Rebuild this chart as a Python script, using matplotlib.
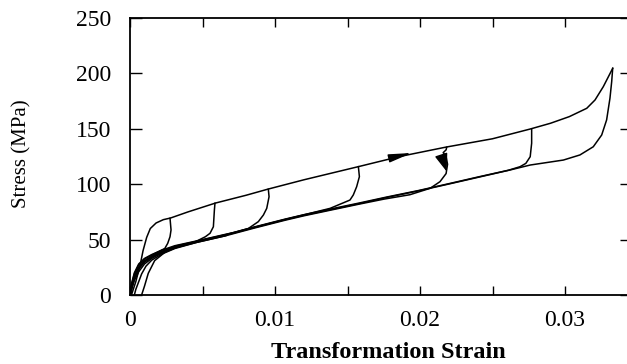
import matplotlib
matplotlib.use('Agg')
import matplotlib.pyplot as plt

# --- data (strain, stress in MPa) -------------------------------------------
load_strain = [0.0001, 0.0004, 0.0007, 0.0009, 0.00115, 0.0014, 0.0018, 0.0023,
               0.0028, 0.0040, 0.0059, 0.0080, 0.0095, 0.0120, 0.0158, 0.0186,
               0.0218, 0.0250, 0.0276, 0.0290, 0.0303, 0.0315, 0.03207, 0.03264,
               0.03329]
load_stress = [0, 12, 27, 40, 52, 60, 65, 68, 69.5, 75, 83, 90, 95.5, 104, 116,
               125, 133.5, 141, 149.8, 155, 161, 168.5, 176, 188, 204.6]

unload_strain = [0.03329, 0.03322, 0.0331, 0.03287, 0.03253, 0.03195, 0.03103,
                 0.02989, 0.0276, 0.0262, 0.0241, 0.0221, 0.0199, 0.0177, 0.0158,
                 0.0138, 0.0120, 0.0107, 0.0086, 0.0066, 0.0046, 0.0031, 0.0022,
                 0.0015, 0.0010, 0.0006, 0.0003, 0.0001, 0]
unload_stress = [204.6, 192.6, 177.5, 158, 144.4, 133.8, 126.4, 121.8, 117.3,
                 112.8, 106.5, 100.5, 94, 88, 82.5, 77, 72, 68, 61, 54, 48, 43.5,
                 39.5, 35, 31, 25, 17, 8, 0]

# partial unloading branches, each running back down to zero stress
loop_a_strain = [0.00276, 0.00283, 0.00276, 0.0026, 0.0024, 0.00195, 0.0015,
                 0.0010, 0.0006, 0.0003, 0.0001, 0]
loop_a_stress = [69.2, 58.7, 52.6, 46.6, 42, 39, 36, 32.5, 27, 19, 9, 0]

loop_b_strain = [0.00586, 0.00582, 0.00575, 0.00552, 0.0052, 0.0045, 0.0031,
                 0.0022, 0.0015, 0.0010, 0.0006, 0.0003, 0.0001, 0]
loop_b_stress = [82.8, 76.7, 61.6, 55.7, 52.6, 48, 42.5, 38, 33, 28, 21, 13, 5, 0]

loop_c_strain = [0.00954, 0.00959, 0.00943, 0.0092, 0.00885, 0.00816, 0.0072,
                 0.0066, 0.0046, 0.0031, 0.0022, 0.0015, 0.0010, 0.0006, 0.0003,
                 0.0001, 0]
loop_c_stress = [95.4, 88.7, 78.2, 72.2, 66.2, 60, 56.5, 54.8, 48.8, 44.5, 40.5,
                 36.5, 33, 28, 20, 10, 0]

loop_d_strain = [0.01575, 0.01582, 0.01563, 0.0154, 0.01517, 0.0138, 0.01195,
                 0.0107, 0.0086, 0.0066, 0.0046, 0.0031, 0.0022, 0.0015, 0.0010,
                 0.0006, 0.0003, 0.00015, 0.00005]
loop_d_stress = [115.8, 106.8, 97.7, 90.3, 85.7, 78.2, 72.2, 68.2, 61.2, 54.2,
                 48.2, 43, 38.5, 34, 29.5, 23.5, 15, 7, 0]

loop_e_strain = [0.02184, 0.0218, 0.0216, 0.0218, 0.0219, 0.0218, 0.02138, 0.0207,
                 0.0193, 0.0175, 0.0158, 0.0138, 0.0120, 0.0107, 0.0086, 0.0066,
                 0.0046, 0.0031, 0.0022, 0.0015, 0.0011, 0.0008, 0.0006, 0.0004,
                 0.0003]
loop_e_stress = [133.3, 131, 128.5, 125, 118, 109.6, 102.3, 96.3, 90.5, 86.5, 82,
                 76.5, 71.5, 67.5, 60.5, 53.5, 47.5, 42, 37, 31.5, 26, 19, 12, 5, 0]

loop_f_strain = [0.0277, 0.0277, 0.0276, 0.0273, 0.0269, 0.0261, 0.0241, 0.0221,
                 0.0199, 0.0177, 0.0158, 0.0138, 0.0120, 0.0107, 0.0086, 0.0066,
                 0.0046, 0.0031, 0.0022, 0.0015, 0.0010, 0.0006, 0.0003, 0.0001, 0]
loop_f_stress = [149.8, 137, 124.8, 118.8, 115.8, 112.6, 106.8, 100.8, 94.3, 88.4,
                 83, 77.5, 72.5, 68.5, 61.5, 54.5, 48.5, 44, 39, 34.5, 30.5, 24,
                 16, 7, 0]

reload_strain = [0.0008, 0.0010, 0.00126, 0.0017, 0.0024, 0.0031, 0.0046, 0.0066]
reload_stress = [0, 8, 19.6, 31, 38.5, 42.5, 47.5, 53.5]

# direction arrows: (tail, tip)
arrow_load = [(0.01805, 123.9), (0.01943, 128.2)]
arrow_unload = [(0.0215, 125.0), (0.02184, 111.4)]

x_ticks = [0, 0.005, 0.01, 0.015, 0.02, 0.025, 0.03]
x_tick_labels = ['0', '', '0.01', '', '0.02', '', '0.03']
y_ticks = [0, 50, 100, 150, 200, 250]

SERIF = ['Liberation Serif', 'DejaVu Serif']

fig = plt.figure(figsize=(6.27, 3.64), dpi=100)
ax = fig.add_axes([130 / 627, 69 / 364, 498 / 627, 277 / 364])

curves = [
    (load_strain, load_stress), (unload_strain, unload_stress),
    (loop_a_strain, loop_a_stress), (loop_b_strain, loop_b_stress),
    (loop_c_strain, loop_c_stress), (loop_d_strain, loop_d_stress),
    (loop_e_strain, loop_e_stress), (loop_f_strain, loop_f_stress),
    (reload_strain, reload_stress),
]
for xs, ys in curves:
    ax.plot(xs, ys, color='black', lw=1.1, solid_joinstyle='round')

ax.annotate('', xy=arrow_load[1], xytext=arrow_load[0],
            arrowprops=dict(arrowstyle='-|>,head_length=1.4,head_width=0.25',
                            color='black', lw=1.0, shrinkA=0, shrinkB=0))
ax.annotate('', xy=arrow_unload[1], xytext=arrow_unload[0],
            arrowprops=dict(arrowstyle='-|>,head_length=1.1,head_width=0.4',
                            color='black', lw=1.0, shrinkA=0, shrinkB=0))

ax.set_xlim(0, 498 / 14500)
ax.set_ylim(0, 250)
ax.set_xticks(x_ticks)
ax.set_xticklabels(x_tick_labels)
ax.set_yticks(y_ticks)

for sp in ax.spines.values():
    sp.set_linewidth(1.3)

ax.tick_params(direction='in', top=True, right=True, width=1.0,
               labelsize=17, colors='black')
ax.tick_params(axis='x', length=6.5, pad=10.5)
ax.tick_params(axis='y', pad=13.5)
for t in ax.yaxis.get_major_ticks():
    t.tick1line.set_markersize(8.6)
    t.tick2line.set_markersize(5.8)
for lab in ax.get_xticklabels() + ax.get_yticklabels():
    lab.set_family(SERIF)

fig.text(21.5 / 627, 1 - 154 / 364, 'Stress (MPa)', rotation=90,
         ha='center', va='center', fontsize=15, family=SERIF)
fig.text(388 / 627, 1 / 364, 'Transformation Strain', ha='center',
         va='bottom', fontsize=17.5, fontweight='bold', family=SERIF)

fig.savefig('out.png', dpi=100)
